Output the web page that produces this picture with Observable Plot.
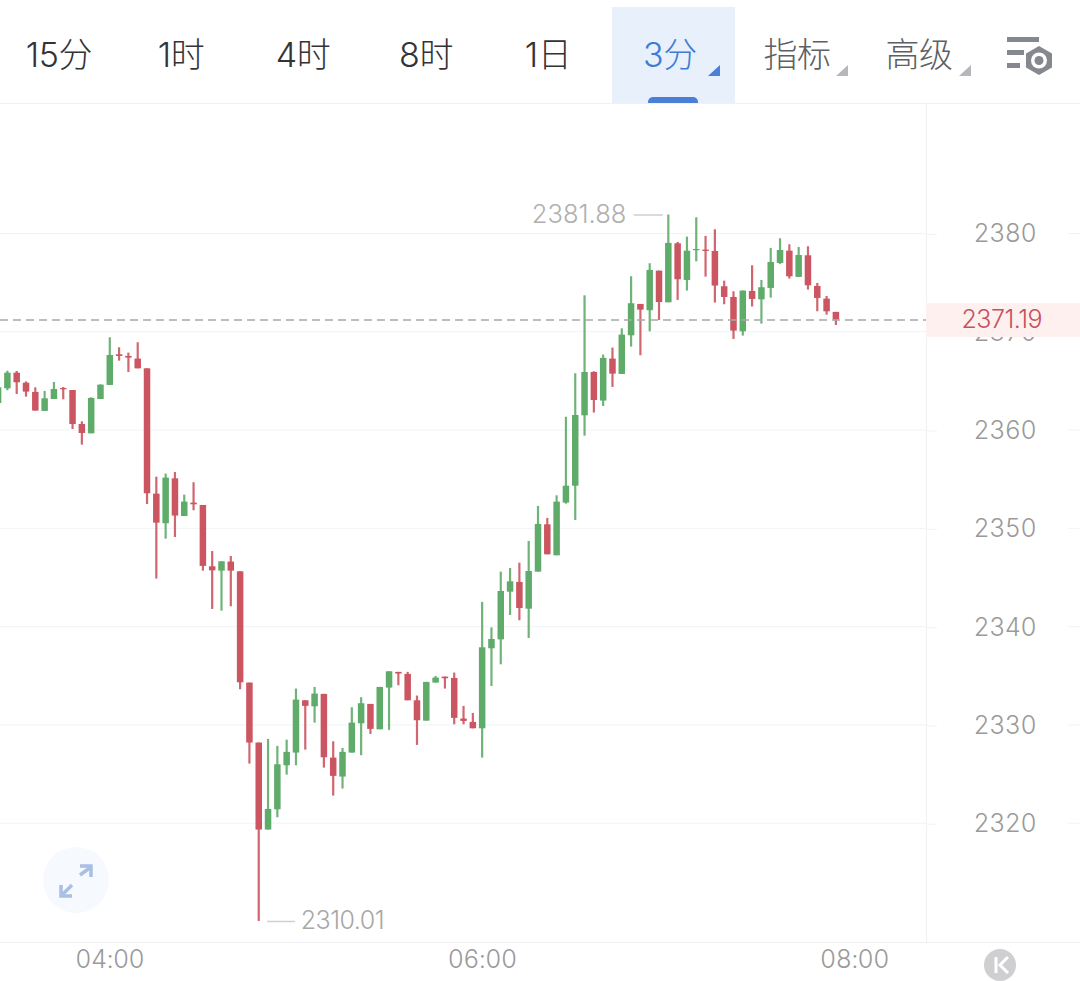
<!DOCTYPE html>
<html lang="zh">
<head>
<meta charset="utf-8">
<script src="https://cdn.jsdelivr.net/npm/d3@7"></script>
<script src="https://cdn.jsdelivr.net/npm/@observablehq/plot@0.6"></script>
<style>
html,body{margin:0;padding:0;background:#fff;width:1080px;height:981px;overflow:hidden;font-family:"Noto Sans CJK SC","Noto Sans",sans-serif}
#bar{position:relative;width:1080px;height:104px;box-sizing:border-box;border-bottom:1px solid #f0f1f3}
#bar .tab{position:absolute;top:31px;height:48px;line-height:48px;width:130px;text-align:center;font-size:34px;font-weight:300;color:#333336;transform:translateX(-65px);font-family:Inter,"Noto Sans CJK SC",sans-serif;letter-spacing:-.4px}
#bar .tab.sub{color:#5c5f64}
#bar .tab.on{color:#3f7bd2}
#bar .bg{position:absolute;left:612px;top:7px;width:123px;height:96px;background:#e7f0fb}
#bar .ind{position:absolute;left:648px;top:97px;width:50px;height:6px;background:#4a7fd6;border-radius:5px 5px 0 0}
svg.over{position:absolute;left:0;top:0;pointer-events:none}
#chart{position:relative;width:1080px;height:877px}
#chart svg{display:block}
</style>
</head>
<body>
<div id="bar">
  <div class="bg"></div><div class="ind"></div>
</div>
<div id="chart"></div>
<svg class="over" width="1080" height="981" viewBox="0 0 1080 981">
  <path d="M720 65v11h-12z" fill="#4a80d8"/>
  <path d="M848 65v11h-12z" fill="#b5b7bb"/>
  <path d="M971 65v11h-12z" fill="#b5b7bb"/>
  <g fill="#85888e">
    <rect x="1007" y="37" width="32" height="5"/>
    <rect x="1007" y="50" width="17" height="5"/>
    <rect x="1007" y="63" width="13" height="5"/>
  </g>
  <path d="M1039 46l13 7.500v14l-13 7.500l-13-7.500v-14z" fill="#85888e"/>
  <circle cx="1039" cy="60.500" r="8" fill="#fff"/>
  <circle cx="1039" cy="60.500" r="4.500" fill="#85888e"/>
  <circle cx="76" cy="880" r="33" fill="#f6f9fd"/>
  <g fill="none" stroke="#a9bfe4" stroke-width="3.500">
    <path d="M80 875L91 867M80 866h11v11"/>
    <path d="M72 885L62 895M61 885v11h11"/>
  </g>
  <circle cx="1000" cy="965" r="16" fill="#cfcfd1"/>
  <path d="M996 957v16M1008 957l-8 8l8 8" fill="none" stroke="#fff" stroke-width="3"/>
</svg>
<script>
const tabLabels = ["15分","1时","4时","8时","1日","3分","指标","高级"];
const tabCenters = [59,181,303,426,548,670,797,919];
const tabClasses = ["","","","","","on","sub","sub"];

const opens = [2362.7,2364.2,2365.79,2364.77,2363.83,2361.9,2363.11,2364.23,2364.03,2360.57,2359.62,2363.11,2364.54,
2367.66,2367.49,2367.22,2366.23,2353.48,2350.47,2355.04,2351.21,2352.57,2352.33,
2346.09,2345.65,2346.57,2345.58,2334.26,2328.16,2319.31,2321.37,2325.85,2327.14,
2332.46,2331.85,2333.11,2326.63,2324.7,2327.14,2330.12,2332.09,2329.51,2333.75,
2335.35,2335.14,2332.46,2330.39,2334.26,2334.87,2334.73,2330.6,2330.26,2329.61,
2337.75,2338.66,2343.51,2344.5,2341.78,2345.55,2350.36,2347.21,2352.57,2354.29,
2361.45,2365.86,2362.95,2367.22,2365.66,2369.59,2372.78,2372.14,2376.17,2372.95,
2378.95,2375.22,2378.24,2378.31,2378.17,2374.58,2373.49,2370,2374.1,2373.25,
2374.41,2376.95,2378.2,2375.53,2377.73,2374.61,2373.32,2371.97];
const closes = [2364.3,2365.79,2364.81,2363.86,2361.93,2363.18,2364.13,2364.1,2360.57,2359.65,2363.22,2364.57,2367.59,
2367.49,2367.32,2366.23,2353.52,2350.53,2355.11,2351.25,2352.67,2352.4,2346.13,
2345.68,2346.6,2345.65,2334.29,2328.16,2319.31,2321.41,2325.95,2327.21,2332.53,
2331.89,2333.14,2326.66,2324.77,2327.21,2330.19,2332.16,2329.55,2333.82,2335.41,
2335.18,2332.46,2330.43,2334.33,2334.77,2334.7,2330.67,2330.36,2329.61,2337.85,
2338.7,2343.58,2344.56,2341.85,2345.61,2350.4,2347.31,2352.67,2354.29,2361.48,
2365.86,2363.01,2367.29,2365.69,2369.66,2372.85,2372.2,2376.24,2372.98,2378.99,
2375.29,2378.2,2378.37,2378.17,2374.65,2373.49,2370.07,2374.14,2373.29,2374.48,
2377.05,2378.27,2375.59,2377.76,2374.68,2373.39,2372.03,2371.19];
const highs = [2364.6,2365.99,2365.96,2364.9,2364.3,2363.93,2364.84,2364.33,2364.03,2360.84,2363.28,2364.6,2369.39,
2368.37,2367.83,2368.88,2366.23,2355.21,2355.52,2355.69,2353.38,2354.64,2352.33,
2347.65,2346.6,2347.14,2345.6,2334.26,2328.16,2328.53,2327.82,2328.46,2333.65,
2332.46,2333.82,2333.11,2328.29,2327.61,2331.75,2332.77,2332.09,2333.82,2335.41,
2335.35,2335.35,2332.94,2334.33,2334.94,2334.87,2335.28,2331.89,2331.17,2342.47,
2339.88,2345.55,2345.92,2346.46,2348.67,2352.23,2351.01,2353.31,2361.3,2365.73,
2373.66,2365.93,2367.63,2368.34,2370.3,2375.6,2372.78,2376.92,2376.17,2381.88,
2379.09,2379.63,2381.6,2379.7,2380.38,2375.15,2374.07,2374.14,2376.71,2375.22,
2378.48,2379.46,2378.85,2378.58,2378.65,2374.92,2373.59,2371.97];
const lows = [2362.5,2364,2363.62,2363.35,2361.93,2361.9,2363.11,2363.08,2360.06,2358.47,2359.62,2363.11,2364.54,
2367.01,2365.86,2366.23,2352.43,2344.84,2348.9,2349.07,2351.21,2351.79,2345.65,
2341.75,2341.58,2342.02,2333.58,2326.02,2310.01,2319.31,2320.56,2324.9,2325.85,
2327.44,2330.19,2325.61,2322.76,2323.48,2327.14,2326.87,2329.04,2329.51,2329.45,
2333.99,2332.46,2327.92,2330.39,2334.26,2333.65,2330.02,2330.02,2329.61,2326.63,
2333.92,2336.12,2341.14,2340.6,2338.8,2345.55,2347.31,2347.21,2352.46,2350.8,
2359.38,2361.73,2362.4,2364.34,2365.66,2368.44,2367.56,2370,2371.15,2372.95,
2373.19,2374.14,2377.12,2375.56,2372.92,2372.75,2369.22,2369.56,2372.52,2370.78,
2373.42,2376.85,2375.36,2375.53,2374.24,2372.03,2371.69,2370.64];

const priceTicks = [2320,2330,2340,2350,2360,2370,2380];
const timeTickLabels = ["04:00","06:00","08:00"];
const lastPrice = 2371.19;
const peak = {label:"2381.88", price:2381.88, index:72};
const trough = {label:"2310.01", price:2310.01, index:28};

const UP = "#5fab69", DOWN = "#cb5560", AXIS = "#9a9a9a", LINE = "#f1f3f6";
const MIN = 60000;
const t0 = Date.UTC(2024,0,1,4,0);
const at = m => new Date(t0 + m*MIN);
const candles = opens.map((o,i)=>({t:at((i-12)*3),o,c:closes[i],h:highs[i],l:lows[i],col:closes[i]>=o?UP:DOWN}));
const timeTicks = timeTickLabels.map(s=>{const [h,m]=s.split(":").map(Number);return new Date(Date.UTC(2024,0,1,h,m));});
const xMin = -35.22, xMax = 263.2;

const bar = document.getElementById("bar");
tabLabels.forEach((s,i)=>{
  const d=document.createElement("div");
  d.className="tab "+tabClasses[i];
  d.style.left=tabCenters[i]+"px";
  d.textContent=s;
  bar.appendChild(d);
});

const chart = Plot.plot({
  width:1080, height:877,
  marginLeft:0, marginRight:154, marginTop:0, marginBottom:39,
  style:{background:"#fff",fontFamily:"Inter, 'Noto Sans', sans-serif",overflow:"visible"},
  x:{type:"utc",domain:[at(xMin),at(xMax)]},
  y:{domain:[2307.87,2393.12]},
  marks:[
    Plot.ruleY(priceTicks,{stroke:LINE,strokeWidth:1}),
    Plot.ruleY(priceTicks,{x1:at(xMax+45.8),x2:at(xMax+50),stroke:LINE,strokeWidth:1}),
    Plot.ruleY([2307.87],{x1:at(xMin),x2:at(xMax+50),stroke:"#eff0f2",strokeWidth:1}),
    Plot.ruleX([at(xMax)],{stroke:"#eff0f2",strokeWidth:1}),
    Plot.axisY({anchor:"right",ticks:priceTicks,tickFormat:d=>String(d),tickSize:10,tickPadding:37,stroke:LINE,fill:AXIS,fontSize:25,fontWeight:300,label:null,dy:1}),
    Plot.axisX({ticks:timeTicks,tickFormat:d3.utcFormat("%H:%M"),tickSize:0,tickPadding:8,fill:AXIS,fontSize:25,fontWeight:300,label:null}),
    Plot.ruleX(candles,{x:"t",y1:"l",y2:"h",stroke:"col",strokeWidth:2.2,strokeOpacity:.9}),
    Plot.ruleX(candles,{x:"t",y1:"o",y2:"c",stroke:"col",strokeWidth:6.5}),
    Plot.ruleY([lastPrice],{x1:at(xMin),x2:at(xMax),stroke:"#a8a8a8",strokeWidth:1.5,strokeDasharray:"8,5"}),
    Plot.ruleY([lastPrice],{x1:at(xMax),x2:at(xMax+50),stroke:"#fdf0ef",strokeWidth:34}),
    Plot.text([lastPrice],{x:at(xMax),y:d=>d,text:d=>d.toFixed(2),textAnchor:"start",dx:35,fill:"#c8505c",fontSize:25,fontWeight:300}),
    Plot.ruleY([peak.price],{x1:at((peak.index-12)*3-11),x2:at((peak.index-12)*3-1.6),stroke:"#cfcfcf",strokeWidth:1.5}),
    Plot.text([peak],{x:d=>at((d.index-12)*3),y:"price",text:"label",textAnchor:"end",dx:-42,fill:"#b0b0b0",fontSize:25.500,fontWeight:300}),
    Plot.ruleY([trough.price],{x1:at((trough.index-12)*3+2.8),x2:at((trough.index-12)*3+11.8),stroke:"#cfcfcf",strokeWidth:1.5}),
    Plot.text([trough],{x:d=>at((d.index-12)*3),y:"price",text:"label",textAnchor:"start",dx:42,fill:"#a8a8a8",fontSize:25,fontWeight:300})
  ]
});
d3.select(chart).selectAll("text").filter(function(){return this.textContent!==peak.label;}).style("letter-spacing","-.5px");
document.getElementById("chart").appendChild(chart);
</script>
</body>
</html>
